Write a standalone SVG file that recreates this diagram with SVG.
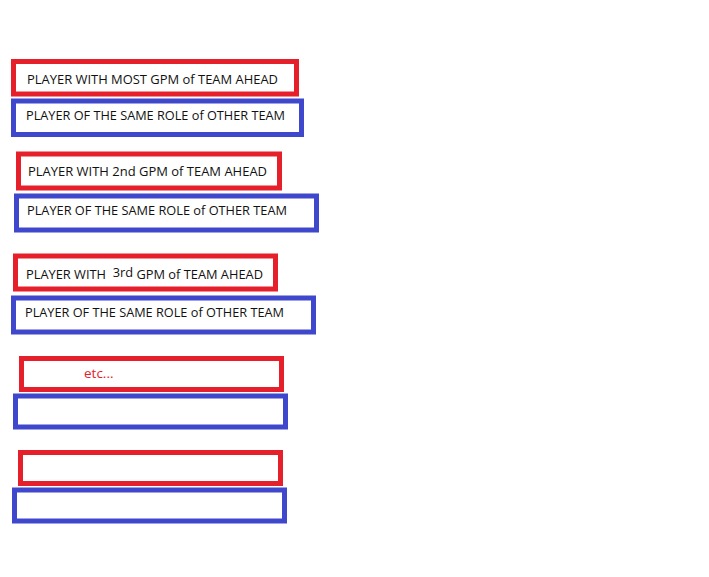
<svg xmlns="http://www.w3.org/2000/svg" width="709" height="577" viewBox="0 0 709 577">
<style>
.r{fill:none;stroke:#e5202a;stroke-width:5}
.b{fill:none;stroke:#3f48cc;stroke-width:5}
text{font-family:"Open Sans","Liberation Sans",Arial,sans-serif;font-size:13px;fill:#111;white-space:pre}
.e{fill:#e5202a;font-size:13.5px}
</style>
<rect width="709" height="577" fill="#fff"/>
<g id="n1"><rect class="r" x="13.5" y="61.5" width="283" height="32.5"/><text x="27" y="84" textLength="251" lengthAdjust="spacingAndGlyphs">PLAYER WITH MOST GPM of TEAM AHEAD</text></g>
<g id="n2"><rect class="b" x="13.5" y="101" width="288" height="33.5"/><text x="26" y="120" textLength="259" lengthAdjust="spacingAndGlyphs">PLAYER OF THE SAME ROLE of OTHER TEAM</text></g>
<g id="n3"><rect class="r" x="18.5" y="154" width="261" height="34"/><text x="28" y="176" textLength="239" lengthAdjust="spacingAndGlyphs">PLAYER WITH 2nd GPM of TEAM AHEAD</text></g>
<g id="n4"><rect class="b" x="16.5" y="196" width="300" height="34"/><text x="27" y="215" textLength="260" lengthAdjust="spacingAndGlyphs">PLAYER OF THE SAME ROLE of OTHER TEAM</text></g>
<g id="n5"><rect class="r" x="15.5" y="256" width="260" height="33"/><text x="26" y="278.5" textLength="237" lengthAdjust="spacingAndGlyphs" xml:space="preserve">PLAYER WITH  <tspan dy="-1.5">3rd</tspan><tspan dy="1.5"> GPM of TEAM AHEAD</tspan></text></g>
<g id="n6"><rect class="b" x="13.5" y="298" width="300" height="34"/><text x="25" y="317" textLength="259" lengthAdjust="spacingAndGlyphs">PLAYER OF THE SAME ROLE of OTHER TEAM</text></g>
<g id="n7"><rect class="r" x="21.5" y="358.5" width="260" height="31"/><text class="e" x="84" y="378">etc...</text></g>
<g id="n8"><rect class="b" x="15.5" y="396" width="270" height="31"/></g>
<g id="n9"><rect class="r" x="20.5" y="452.5" width="260" height="31"/></g>
<g id="n10"><rect class="b" x="14.5" y="490" width="270" height="31"/></g>
<g id="connectors"/>
</svg>
